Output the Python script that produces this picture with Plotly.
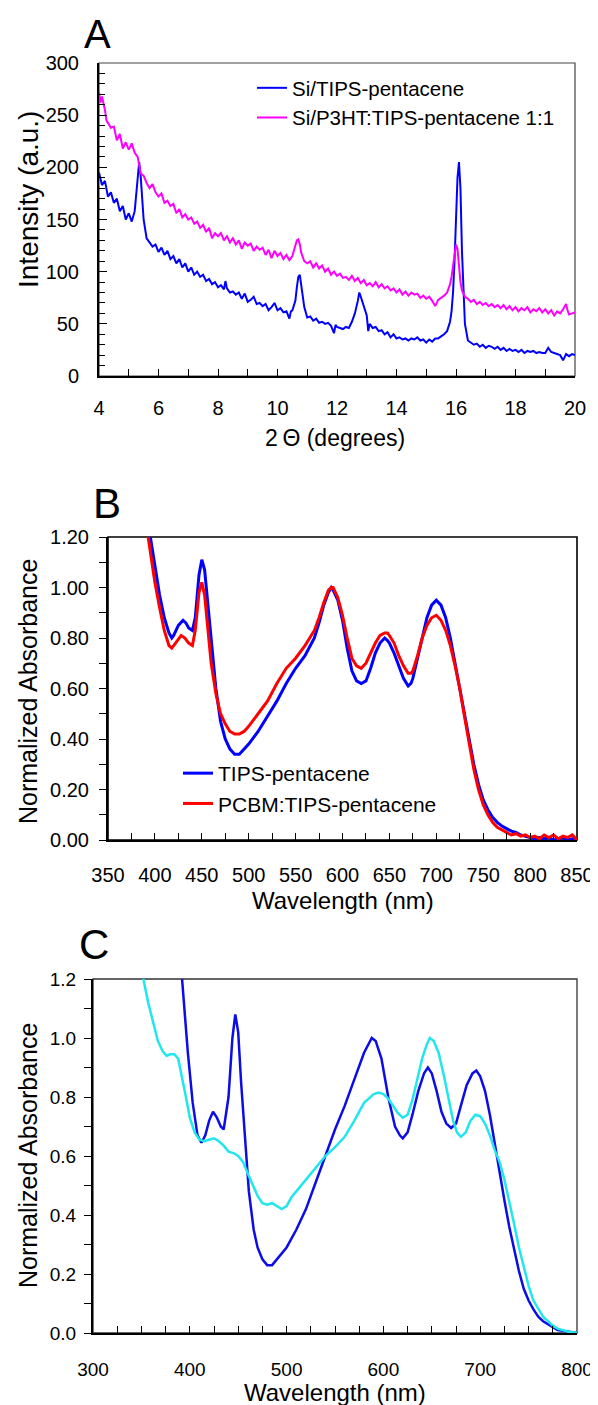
import plotly.graph_objects as go

# --- Window size and the page's default body margin (px) ---
WIN_W, WIN_H = 598, 1405
OFF = 8
W, H = WIN_W - OFF, WIN_H - OFF
FONT = "Liberation Sans, Arial, sans-serif"

# --- Panel A: XRD, Si/TIPS-pentacene ---
a_theta_tips = [
    4.0, 4.1, 4.2, 4.3, 4.4, 4.5, 4.6, 4.7, 4.8, 4.9, 5.0, 5.1, 5.2, 5.25, 5.3, 5.35, 5.4, 5.45,
    5.5, 5.6, 5.7, 5.8, 5.9, 6.0, 6.1, 6.2, 6.3, 6.4, 6.5, 6.6, 6.7, 6.8, 6.9, 7.0, 7.1, 7.2,
    7.3, 7.4, 7.5, 7.6, 7.7, 7.8, 7.9, 8.0, 8.1, 8.2, 8.25, 8.3, 8.4, 8.5, 8.6, 8.7, 8.8, 8.9,
    9.0, 9.1, 9.2, 9.3, 9.4, 9.5, 9.6, 9.7, 9.8, 9.9, 10.0, 10.1, 10.2, 10.3, 10.4, 10.45,
    10.5, 10.6, 10.65, 10.7, 10.75, 10.8, 10.85, 10.9, 11.0, 11.1, 11.2, 11.3, 11.4, 11.5,
    11.6, 11.7, 11.8, 11.9, 11.95, 12.0, 12.1, 12.2, 12.3, 12.4, 12.5, 12.6, 12.7, 12.75,
    12.8, 12.9, 13.0, 13.05, 13.1, 13.2, 13.3, 13.4, 13.5, 13.6, 13.7, 13.8, 13.9, 14.0,
    14.1, 14.2, 14.3, 14.4, 14.5, 14.6, 14.7, 14.8, 14.9, 15.0, 15.1, 15.2, 15.3, 15.4,
    15.5, 15.6, 15.7, 15.8, 15.85, 15.9, 15.95, 16.0, 16.05, 16.1, 16.15, 16.2, 16.25,
    16.3, 16.4, 16.5, 16.6, 16.7, 16.8, 16.9, 17.0, 17.1, 17.2, 17.3, 17.4, 17.5, 17.6,
    17.7, 17.8, 17.9, 18.0, 18.1, 18.2, 18.3, 18.4, 18.5, 18.6, 18.7, 18.8, 18.9, 19.0,
    19.1, 19.2, 19.3, 19.4, 19.5, 19.6, 19.7, 19.8, 19.9, 20.0,
]
a_int_tips = [
    195, 183, 187, 172, 176, 166, 170, 158, 163, 150, 156, 148, 158, 172, 190, 205, 192, 170,
    150, 132, 128, 124, 126, 119, 123, 116, 120, 112, 115, 108, 112, 104, 108, 100, 104, 97,
    100, 95, 97, 91, 93, 88, 90, 85, 87, 83, 91, 84, 80, 81, 78, 80, 74, 79,
    71, 73, 76, 69, 70, 67, 69, 63, 66, 70, 63, 65, 61, 62, 55, 62,
    63, 72, 85, 95, 97, 88, 75, 66, 56, 57, 53, 55, 51, 52,
    50, 51, 48, 41, 49, 47, 46, 45, 47, 46, 52, 60, 72, 80,
    76, 68, 58, 43, 50, 46, 47, 43, 44, 40, 42, 37, 40, 36,
    37, 35, 36, 34, 36, 35, 37, 34, 35, 32, 35, 33, 36, 36,
    38, 40, 43, 52, 62, 80, 110, 150, 190, 205, 180, 120, 75,
    50, 34, 32, 30, 31, 28, 30, 27, 29, 28, 26, 28, 25, 27,
    24, 26, 24, 25, 23, 25, 22, 24, 23, 24, 22, 23, 22, 22,
    27, 23, 22, 21, 20, 15, 21, 19, 21, 20,
]

# --- Panel A: XRD, Si/P3HT:TIPS-pentacene 1:1 ---
a_theta_blend = [
    4.0, 4.05, 4.1, 4.2, 4.25, 4.3, 4.4, 4.5, 4.6, 4.7, 4.75, 4.8, 4.9, 5.0, 5.1, 5.2, 5.3,
    5.4, 5.5, 5.6, 5.7, 5.8, 5.9, 6.0, 6.1, 6.2, 6.3, 6.4, 6.5, 6.6, 6.7, 6.8, 6.9, 7.0,
    7.1, 7.2, 7.3, 7.4, 7.5, 7.6, 7.7, 7.8, 7.9, 8.0, 8.1, 8.2, 8.3, 8.4, 8.5, 8.6, 8.7,
    8.8, 8.9, 9.0, 9.1, 9.2, 9.3, 9.4, 9.5, 9.6, 9.7, 9.8, 9.9, 10.0, 10.1, 10.2, 10.3,
    10.4, 10.5, 10.6, 10.65, 10.7, 10.75, 10.8, 10.9, 11.0, 11.1, 11.2, 11.3, 11.4, 11.5,
    11.6, 11.7, 11.8, 11.9, 12.0, 12.1, 12.2, 12.3, 12.4, 12.5, 12.6, 12.7, 12.8, 12.9,
    13.0, 13.1, 13.2, 13.3, 13.4, 13.5, 13.6, 13.7, 13.8, 13.9, 14.0, 14.1, 14.2, 14.3,
    14.4, 14.5, 14.6, 14.7, 14.8, 14.9, 15.0, 15.1, 15.2, 15.3, 15.4, 15.5, 15.6, 15.7,
    15.8, 15.85, 15.9, 15.95, 16.0, 16.05, 16.1, 16.15, 16.2, 16.3, 16.4, 16.5, 16.6,
    16.7, 16.8, 16.9, 17.0, 17.1, 17.2, 17.3, 17.4, 17.5, 17.6, 17.7, 17.8, 17.9, 18.0,
    18.1, 18.2, 18.3, 18.4, 18.5, 18.6, 18.7, 18.8, 18.9, 19.0, 19.1, 19.2, 19.3, 19.4,
    19.5, 19.6, 19.7, 19.75, 19.8, 19.9, 20.0,
]
a_int_blend = [
    272, 262, 268, 255, 245, 243, 238, 239, 226, 232, 226, 218, 224, 217, 223, 214, 210,
    194, 192, 185, 180, 184, 176, 172, 175, 166, 168, 163, 165, 156, 160, 152, 155, 150,
    152, 146, 148, 142, 145, 138, 142, 132, 137, 134, 137, 130, 134, 128, 132, 126, 130,
    122, 128, 125, 127, 120, 124, 121, 123, 116, 121, 113, 120, 115, 118, 112, 116,
    111, 115, 126, 130, 131, 126, 118, 110, 108, 110, 104, 108, 103, 106,
    100, 103, 97, 100, 96, 98, 94, 95, 92, 96, 91, 94, 89, 92,
    87, 89, 86, 90, 85, 88, 84, 86, 82, 84, 80, 83, 78, 81,
    77, 80, 78, 79, 75, 77, 74, 76, 72, 67, 73, 75, 77, 80,
    88, 95, 105, 118, 126, 122, 105, 90, 82, 76, 74, 71, 73,
    69, 71, 68, 70, 67, 69, 66, 68, 65, 68, 64, 67, 63, 66,
    62, 65, 63, 66, 61, 64, 62, 65, 61, 64, 60, 63, 58, 62,
    60, 64, 69, 63, 59, 60, 61,
]

# --- Panel B: UV-vis, TIPS-pentacene ---
b_wl_tips = [
    390, 395, 400, 405, 410, 415, 418, 420, 425, 430, 433, 436, 440, 443, 447, 450, 453, 456,
    460, 465, 470, 475, 480, 485, 490, 495, 500, 510, 520, 530, 540, 550, 560, 570, 575,
    580, 585, 588, 590, 595, 600, 605, 610, 615, 620, 625, 630, 635, 640, 645, 648, 650,
    655, 660, 665, 670, 673, 675, 680, 685, 690, 695, 700, 705, 710, 715, 720, 725, 730,
    735, 740, 745, 750, 755, 760, 765, 770, 775, 780, 785, 790, 795, 800, 805, 810, 815,
    820, 825, 830, 835, 840, 845, 850,
]
b_abs_tips = [
    1.32, 1.20, 1.08, 0.97, 0.88, 0.82, 0.80, 0.81, 0.85, 0.87, 0.86, 0.84, 0.83, 0.88, 1.05, 1.11, 1.07, 0.95,
    0.78, 0.60, 0.47, 0.40, 0.36, 0.34, 0.34, 0.36, 0.38, 0.43, 0.49, 0.55, 0.62, 0.68, 0.73, 0.80, 0.86,
    0.93, 0.98, 1.00, 0.99, 0.95, 0.87, 0.76, 0.67, 0.63, 0.62, 0.63, 0.68, 0.74, 0.78, 0.80, 0.79, 0.78,
    0.74, 0.69, 0.64, 0.61, 0.62, 0.64, 0.72, 0.81, 0.88, 0.93, 0.95, 0.93, 0.88, 0.80, 0.70, 0.60, 0.50,
    0.40, 0.30, 0.22, 0.16, 0.12, 0.09, 0.07, 0.055, 0.045, 0.035, 0.03, 0.02, 0.015, 0.01, 0.005, 0.01, 0.005,
    0.01, 0.0, 0.005, 0.01, 0.0, 0.005, 0.0,
]

# --- Panel B: UV-vis, PCBM:TIPS-pentacene ---
b_wl_pcbm = [
    388, 393, 400, 405, 410, 415, 418, 422, 428, 432, 436, 440, 443, 447, 450, 453, 456,
    460, 465, 470, 475, 480, 485, 490, 495, 500, 510, 520, 530, 540, 550, 560, 570, 575,
    580, 585, 588, 590, 595, 600, 605, 610, 615, 620, 625, 630, 635, 640, 645, 648, 650,
    655, 660, 665, 670, 673, 675, 680, 685, 690, 695, 700, 705, 710, 715, 720, 725, 730,
    735, 740, 745, 750, 755, 760, 765, 770, 775, 780, 785, 790, 795, 800, 805, 810, 815,
    820, 825, 830, 835, 840, 845, 850,
]
b_abs_pcbm = [
    1.32, 1.20, 1.02, 0.92, 0.83, 0.77, 0.76, 0.78, 0.81, 0.80, 0.78, 0.77, 0.83, 0.98, 1.02, 0.97, 0.85,
    0.70, 0.58, 0.50, 0.46, 0.43, 0.42, 0.42, 0.43, 0.45, 0.50, 0.55, 0.62, 0.68, 0.72, 0.77, 0.83, 0.88,
    0.94, 0.99, 1.00, 1.00, 0.96, 0.89, 0.80, 0.72, 0.69, 0.68, 0.70, 0.74, 0.78, 0.81, 0.82, 0.82, 0.81,
    0.78, 0.73, 0.69, 0.66, 0.66, 0.67, 0.73, 0.80, 0.85, 0.88, 0.89, 0.87, 0.83, 0.77, 0.69, 0.60, 0.49,
    0.38, 0.28, 0.20, 0.14, 0.10, 0.07, 0.05, 0.04, 0.03, 0.02, 0.025, 0.015, 0.02, 0.01, 0.015, 0.005, 0.02,
    0.01, 0.02, 0.005, 0.015, 0.01, 0.02, 0.0,
]

# --- Panel C: UV-vis, dark blue and cyan traces ---
c_wl_dark = [
    388, 392, 398, 403, 408, 412, 416, 420, 424, 428, 432, 435, 440, 444, 447, 450, 453, 457,
    461, 466, 470, 475, 480, 485, 490, 500, 510, 520, 530, 540, 550, 560, 570, 580, 588,
    592, 598, 605, 612, 617, 620, 625, 630, 636, 642, 646, 650, 655, 660, 665, 670, 675,
    680, 686, 692, 696, 700, 705, 710, 715, 720, 725, 730, 735, 740, 745, 750, 755, 760,
    765, 770, 775, 780, 790, 800,
]
c_abs_dark = [
    1.40, 1.20, 0.95, 0.78, 0.67, 0.645, 0.67, 0.72, 0.75, 0.73, 0.70, 0.69, 0.80, 1.00, 1.08, 1.02, 0.85, 0.65,
    0.48, 0.35, 0.29, 0.25, 0.23, 0.23, 0.25, 0.29, 0.35, 0.42, 0.51, 0.60, 0.69, 0.77, 0.86, 0.95, 1.00,
    0.99, 0.93, 0.80, 0.70, 0.67, 0.66, 0.68, 0.74, 0.82, 0.88, 0.90, 0.88, 0.82, 0.75, 0.71, 0.695, 0.71,
    0.77, 0.84, 0.88, 0.89, 0.87, 0.82, 0.74, 0.64, 0.55, 0.45, 0.36, 0.28, 0.21, 0.15, 0.11, 0.08, 0.055,
    0.04, 0.03, 0.02, 0.01, 0.005, 0.0,
]
c_wl_cyan = [
    348, 352, 357, 362, 367, 372, 376, 380, 384, 388, 392, 396, 400, 405, 410, 415, 420, 425,
    430, 435, 440, 445, 450, 455, 460, 465, 470, 475, 480, 485, 490, 495, 500, 505, 510,
    520, 530, 540, 550, 560, 570, 580, 590, 595, 600, 605, 610, 615, 620, 625, 630, 635,
    640, 645, 648, 652, 657, 662, 667, 672, 676, 680, 685, 690, 695, 700, 705, 710, 715,
    720, 725, 730, 735, 740, 745, 750, 755, 760, 765, 770, 775, 780, 790, 800,
]
c_abs_cyan = [
    1.24, 1.20, 1.12, 1.05, 0.99, 0.955, 0.94, 0.945, 0.945, 0.93, 0.87, 0.80, 0.73, 0.68, 0.655, 0.65, 0.655, 0.66,
    0.65, 0.635, 0.615, 0.61, 0.60, 0.58, 0.54, 0.50, 0.465, 0.44, 0.435, 0.44, 0.43, 0.42, 0.43, 0.46, 0.48,
    0.52, 0.56, 0.60, 0.63, 0.665, 0.72, 0.78, 0.81, 0.815, 0.81, 0.795, 0.77, 0.745, 0.73, 0.74, 0.79, 0.86,
    0.93, 0.98, 1.00, 0.99, 0.95, 0.88, 0.80, 0.72, 0.68, 0.665, 0.68, 0.72, 0.74, 0.735, 0.71, 0.67, 0.62,
    0.58, 0.52, 0.45, 0.37, 0.29, 0.22, 0.16, 0.11, 0.08, 0.055, 0.04, 0.025, 0.015, 0.005, 0.0,
]

# Panel boxes in window pixels: (left, right, top, bottom)
BOX_A = (99, 575, 63, 376)
BOX_B = (108, 577, 537, 840)
BOX_C = (93, 577, 979, 1333)


def to_px(px):
    return (px - OFF) / W


def to_py(py):
    return 1 - (py - OFF) / H


def dom_x(box):
    return [to_px(box[0]), to_px(box[1])]


def dom_y(box):
    return [to_py(box[3]), to_py(box[2])]


def axis_style(size, **kw):
    base = dict(
        showline=True, linecolor="black", linewidth=2, showgrid=False, zeroline=False,
        automargin=False, tickcolor="black", tickfont=dict(family=FONT, size=size, color="black"),
    )
    base.update(kw)
    return base


fig = go.Figure()

fig.add_trace(go.Scatter(x=a_theta_tips, y=a_int_tips, mode="lines", name="Si/TIPS-pentacene",
                         line=dict(color="#0000ff", width=2), xaxis="x", yaxis="y", legend="legend"))
fig.add_trace(go.Scatter(x=a_theta_blend, y=a_int_blend, mode="lines", name="Si/P3HT:TIPS-pentacene 1:1",
                         line=dict(color="#ff00ff", width=2), xaxis="x", yaxis="y", legend="legend"))

fig.add_trace(go.Scatter(x=b_wl_tips, y=b_abs_tips, mode="lines", name="TIPS-pentacene",
                         line=dict(color="#0000ff", width=3), xaxis="x2", yaxis="y2",
                         legend="legend2", legendgroup="b1"))
fig.add_trace(go.Scatter(x=b_wl_pcbm, y=b_abs_pcbm, mode="lines", name="PCBM:TIPS-pentacene",
                         line=dict(color="#ff0000", width=3), xaxis="x2", yaxis="y2",
                         legend="legend2", legendgroup="b2"))

fig.add_trace(go.Scatter(x=c_wl_dark, y=c_abs_dark, mode="lines", showlegend=False,
                         line=dict(color="#0c0ce6", width=2.5), xaxis="x3", yaxis="y3"))
fig.add_trace(go.Scatter(x=c_wl_cyan, y=c_abs_cyan, mode="lines", showlegend=False,
                         line=dict(color="#22e6ee", width=2.5), xaxis="x3", yaxis="y3"))

fig.update_layout(
    width=W, height=H,
    margin=dict(l=0, r=0, t=0, b=0),
    paper_bgcolor="white", plot_bgcolor="white",
    font=dict(family=FONT, color="black"),
    # panel A
    xaxis=axis_style(20, domain=dom_x(BOX_A), anchor="y", range=[4, 20], dtick=2, tick0=4,
                     ticks="inside", ticklen=7, ticklabelstandoff=13,
                     minor=dict(dtick=1, ticks="inside", ticklen=7, tickcolor="black")),
    yaxis=axis_style(20, domain=dom_y(BOX_A), anchor="x", range=[0, 300], dtick=50,
                     ticks="inside", ticklen=8, ticklabelstandoff=14,
                     minor=dict(dtick=10, ticks="inside", ticklen=6, tickcolor="black")),
    # panel B
    xaxis2=axis_style(20, domain=dom_x(BOX_B), anchor="y2", range=[350, 850], dtick=50, tick0=350,
                      ticks="inside", ticklen=7, ticklabelstandoff=16,
                      minor=dict(dtick=25, ticks="inside", ticklen=7, tickcolor="black")),
    yaxis2=axis_style(20, domain=dom_y(BOX_B), anchor="x2", range=[0, 1.2], dtick=0.2, tickformat=".2f",
                      ticks="outside", ticklen=7, ticklabelstandoff=6,
                      minor=dict(dtick=0.1, ticks="outside", ticklen=7, tickcolor="black")),
    # panel C
    xaxis3=axis_style(19, domain=dom_x(BOX_C), anchor="y3", range=[300, 800], dtick=100, tick0=300,
                      ticks="inside", ticklen=7, ticklabelstandoff=18,
                      minor=dict(dtick=25, ticks="inside", ticklen=7, tickcolor="black")),
    yaxis3=axis_style(19, domain=dom_y(BOX_C), anchor="x3", range=[0, 1.2], dtick=0.2, tickformat=".1f",
                      ticks="outside", ticklen=7, ticklabelstandoff=4,
                      minor=dict(dtick=0.1, ticks="outside", ticklen=7, tickcolor="black")),
    legend=dict(x=to_px(252), y=to_py(68), xanchor="left", yanchor="top", bgcolor="rgba(0,0,0,0)",
                font=dict(family=FONT, size=20.5, color="black")),
    legend2=dict(x=to_px(178), y=to_py(753), xanchor="left", yanchor="top", bgcolor="rgba(0,0,0,0)",
                 tracegroupgap=0, font=dict(family=FONT, size=21, color="black")),
)

# frame around each panel
for xr, yr, col, lw in [("x", "y", "#444444", 1.2), ("x2", "y2", "black", 1.6), ("x3", "y3", "#333333", 1.3)]:
    fig.add_shape(type="rect", xref=f"{xr} domain", yref=f"{yr} domain", x0=0, x1=1, y0=0, y1=1,
                  line=dict(color=col, width=lw), layer="below")

# panel letters and axis titles (window px positions)
labels = [
    ("A", 97, 34, 40, 0),
    ("B", 107, 503, 42, 0),
    ("C", 94, 944, 42, 0),
    ("2\u2009Θ (degrees)", 335, 438, 23, 0),
    ("Intensity (a.u.)", 28, 200, 28, -90),
    ("Wavelength (nm)", 343, 900, 24, 0),
    ("Normalized Absorbance", 28, 692, 25, -90),
    ("Wavelength (nm)", 335, 1392, 24, 0),
    ("Normalized Absorbance", 28, 1156, 25, -90),
]
for text, px, py, size, angle in labels:
    fig.add_annotation(text=text, x=to_px(px), y=to_py(py), xref="paper", yref="paper",
                       showarrow=False, textangle=angle, xanchor="center", yanchor="middle",
                       font=dict(family=FONT, size=size, color="black"))

fig.write_html("out.html")
